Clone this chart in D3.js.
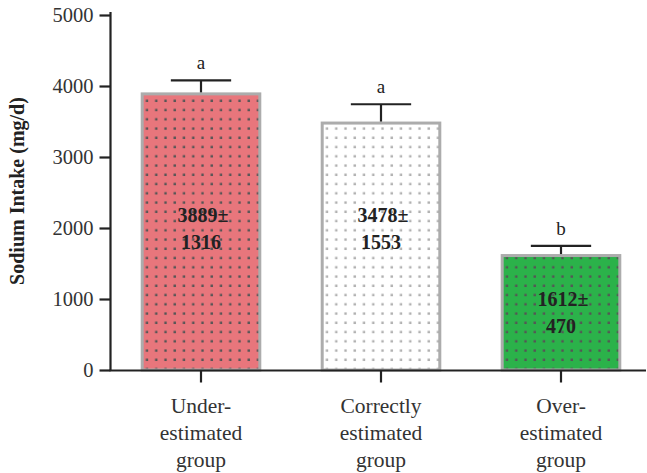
<!DOCTYPE html>
<html>
<head>
<meta charset="utf-8">
<script src="https://cdn.jsdelivr.net/npm/d3@7"></script>
<style>
  html, body { margin: 0; padding: 0; background: #fff; }
  svg { display: block; }
  text { font-family: "Liberation Serif", "Times New Roman", serif; }
</style>
</head>
<body>
<svg id="chart" width="647" height="473"></svg>
<script>
// Sodium intake by self-estimation group
const groups = [
  ["Under-", "estimated", "group"],
  ["Correctly", "estimated", "group"],
  ["Over-", "estimated", "group"]
];
const means = [3889, 3478, 1612];
const sds = [1316, 1553, 470];
const errors = [190, 265, 135];
const letters = ["a", "a", "b"];
const fills = ["#e8767c", "#ffffff", "#2bb24a"];
const dotColors = ["#555555", "#b0b0b0", "#555555"];
const yTicks = [0, 1000, 2000, 3000, 4000, 5000];

const svg = d3.select("#chart");
const ink = "#222";
const serif = '"Liberation Serif", "Times New Roman", serif';

const y = d3.scaleLinear().domain([0, 5000]).range([370, 15]);
const x = d3.scaleBand()
  .domain(d3.range(groups.length))
  .range([111, 651])
  .paddingInner(0.33)
  .paddingOuter(0.165);

// dot-texture patterns, one per bar so the grid starts at the bar edge
const defs = svg.append("defs");
means.forEach((v, i) => {
  const p = defs.append("pattern")
    .attr("id", "dots" + i)
    .attr("patternUnits", "userSpaceOnUse")
    .attr("x", x(i) + 1)
    .attr("y", y(0) + 3)
    .attr("width", 9.25)
    .attr("height", 9.25);
  p.append("rect").attr("width", 9.25).attr("height", 9.25).attr("fill", fills[i]);
  p.append("rect").attr("x", 4.1).attr("y", 4.1).attr("width", 2.4).attr("height", 2.4)
    .attr("fill", dotColors[i]);
});

// bars
svg.append("g").selectAll("rect")
  .data(means)
  .join("rect")
  .attr("x", (d, i) => x(i) + 1.5)
  .attr("y", d => y(d))
  .attr("width", x.bandwidth() - 3)
  .attr("height", d => y(0) - y(d))
  .attr("fill", (d, i) => `url(#dots${i})`)
  .attr("stroke", "#acacac")
  .attr("stroke-width", 3);

// error bars (upper whisker only)
const eb = svg.append("g").attr("stroke", ink).attr("stroke-width", 2.2);
means.forEach((v, i) => {
  const cx = x(i) + x.bandwidth() / 2;
  const top = y(v + errors[i]);
  eb.append("line").attr("x1", cx).attr("x2", cx).attr("y1", y(v) - 1.5).attr("y2", top);
  eb.append("line").attr("x1", cx - x.bandwidth() / 4).attr("x2", cx + x.bandwidth() / 4)
    .attr("y1", top).attr("y2", top);
  svg.append("text")
    .attr("x", cx).attr("y", top - 11)
    .attr("text-anchor", "middle")
    .attr("font-size", 19)
    .attr("fill", ink)
    .text(letters[i]);
});

// mean ± SD labels inside the bars
means.forEach((v, i) => {
  const cx = x(i) + x.bandwidth() / 2;
  const mid = y(v < 2000 ? v / 2 : 1985);
  const t = svg.append("text")
    .attr("text-anchor", "middle")
    .attr("font-size", 20)
    .attr("font-weight", "bold")
    .attr("fill", ink);
  t.append("tspan").attr("x", cx + 2).attr("y", mid - 7).text(v + "±");
  t.append("tspan").attr("x", cx).attr("y", mid + 20).text(sds[i]);
});

// y axis
const yAxis = svg.append("g")
  .attr("transform", "translate(110.5,0)")
  .call(d3.axisLeft(y).tickValues(yTicks).tickFormat(d3.format("d"))
    .tickSize(11).tickPadding(6).tickSizeOuter(0));
yAxis.attr("font-family", serif);
yAxis.select(".domain").attr("stroke", ink).attr("stroke-width", 2.2)
  .attr("d", `M0,${y(5000) - 3}V${y(0)}`);
yAxis.selectAll(".tick line").attr("stroke", ink).attr("stroke-width", 2.2);
yAxis.selectAll(".tick text")
  .attr("font-size", 20.5)
  .attr("fill", "#333");

// x axis
const xAxis = svg.append("g")
  .attr("transform", `translate(0,${y(0) + 0.5})`)
  .call(d3.axisBottom(x).tickSize(12).tickSizeOuter(0).tickFormat(() => ""));
xAxis.select(".domain").attr("stroke", ink).attr("stroke-width", 2.2)
  .attr("d", "M109.5,0H646");
xAxis.selectAll(".tick line").attr("stroke", ink).attr("stroke-width", 2.2);

// multi-line category labels
groups.forEach((lines, i) => {
  const cx = x(i) + x.bandwidth() / 2;
  const t = svg.append("text")
    .attr("text-anchor", "middle")
    .attr("font-size", 21.5)
    .attr("fill", "#333");
  lines.forEach((ln, k) => {
    t.append("tspan").attr("x", cx).attr("y", 413 + k * 27).text(ln);
  });
});

// y-axis title
svg.append("text")
  .attr("transform", "translate(24,191) rotate(-90)")
  .attr("text-anchor", "middle")
  .attr("font-size", 20)
  .attr("font-weight", "bold")
  .attr("fill", ink)
  .text("Sodium Intake (mg/d)");
</script>
</body>
</html>
